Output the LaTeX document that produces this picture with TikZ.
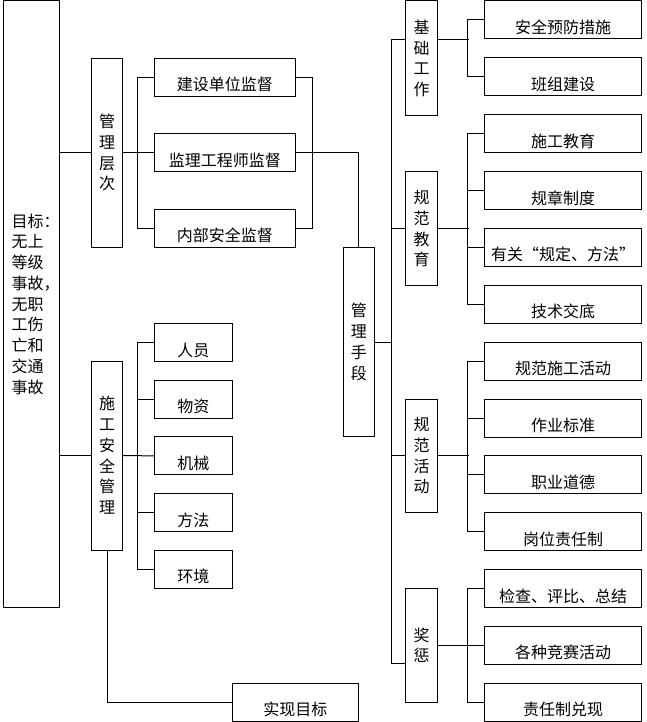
\documentclass[tikz,border=0pt]{standalone}
\usepackage{fontspec}
\setmainfont{Noto Sans CJK SC}
\begin{document}
\begin{tikzpicture}[x=1pt, y=-1pt, line width=1pt,
  every node/.style={font=\fontsize{16}{20.75}\selectfont},
  leaf/.style={draw, inner sep=0pt, minimum height=38pt, text height=31.5pt, text depth=4.5pt},
  stem/.style={draw, inner sep=0pt, minimum width=31pt, align=center}]
  \useasboundingbox (0,0) rectangle (646,722);
  % goal
  \node[draw, minimum width=56pt, minimum height=606pt, inner xsep=8.7pt, text width=38.6pt, align=left] (goal) at (31,304)
    {目标：\\无上\\等级\\事故，\\无职\\工伤\\亡和\\交通\\事故};
  % columns
  \node[stem, minimum height=188.7pt] (level) at (107,152.7) {管\\理\\层\\次};
  \node[stem, minimum height=189pt] (site) at (107,455.5) {施\\工\\安\\全\\管\\理};
  \node[stem, minimum height=189.4pt] (means) at (358.8,342) {管\\理\\手\\段};
  \node[stem, minimum width=31.6pt, minimum height=114.7pt] (base) at (421.5,58.3) {基\\础\\工\\作};
  \node[stem, minimum width=31.6pt, minimum height=114pt] (edu) at (421.5,228.7) {规\\范\\教\\育};
  \node[stem, minimum width=31.6pt, minimum height=113pt] (act) at (421.5,455.8) {规\\范\\活\\动};
  \node[stem, minimum width=31.6pt, minimum height=114pt] (prize) at (421.5,645.3) {奖\\惩};
  % boxes
  \foreach \t [count=\i] in {建设单位监督, 监理工程师监督, 内部安全监督}
    \node[leaf, minimum width=141pt] (c\i) at (224.8,{77.5+75.35*(\i-1)}) {\t};
  \foreach \t [count=\i] in {人员, 物资, 机械, 方法, 环境}
    \node[leaf, minimum width=78pt] (m\i) at (193.3,{342.5+56.7*(\i-1)}) {\t};
  \node[leaf, minimum width=126pt] (aim) at (295.3,702) {实现目标};
  \foreach \t [count=\i] in {安全预防措施, 班组建设, 施工教育, 规章制度, 有关“规定、方法”, 技术交底,
      规范施工活动, 作业标准, 职业道德, 岗位责任制, 检查、评比、总结, 各种竞赛活动, 责任制兑现}
    \node[leaf, minimum width=157.4pt] (r\i) at (563,{20+56.86*(\i-1)}) {\t};
  % left side
  \draw (goal.east |- level) -- (level.west);
  \draw (goal.east |- site) -- (site.west);
  \draw (level.east) -- (level.east -| c2.west);
  \draw (c1.west) -- ++(-16.3,0) |- (c3.west);
  \draw (c1.east) -- ++(16.4,0) |- (c3.east);
  \draw (c2.east) -| (means.north);
  \draw (site.east) -- (m3.west);
  \draw (m1.west) -- ++(-16,0) |- (m5.west);
  \foreach \i in {2,4}
    \draw (m\i.west) -- ++(-16,0);
  \draw (site.south) |- (aim.west);
  % right side
  \coordinate (ttop) at (391,39.3);
  \coordinate (tbot) at (391,663.3);
  \draw (base.west |- ttop) -- (ttop) -- (tbot) -- (prize.west |- tbot);
  \draw (means.east) -- (means.east -| ttop);
  \draw (edu.west) -- (edu.west -| ttop);
  \draw (act.west) -- (act.west -| ttop);
  \draw (base.east |- ttop) -- ++(31,0);
  \draw (edu.east) -- ++(31,0);
  \draw (act.east) -- ++(31,0);
  \draw (prize.east) -- ++(31,0);
  \draw (r1.west) -- ++(-16,0) |- (r2.west);
  \draw (r3.west) -- ++(-16,0) |- (r6.west);
  \draw (r7.west) -- ++(-16,0) |- (r10.west);
  \draw (r11.west) -- ++(-16,0) |- (r13.west);
  \foreach \i in {4,5,8,9,12}
    \draw (r\i.west) -- ++(-16,0);
\end{tikzpicture}
\end{document}
